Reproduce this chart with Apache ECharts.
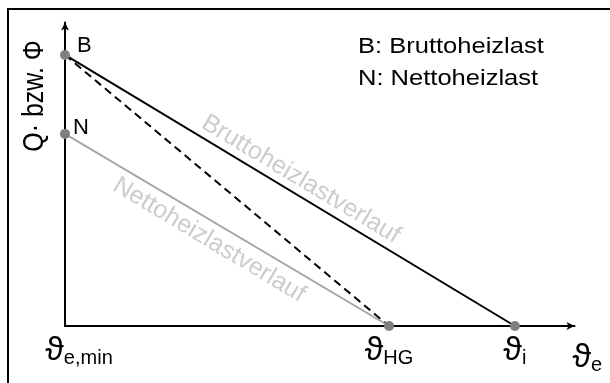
<!DOCTYPE html>
<html>
<head>
<meta charset="utf-8">
<script src="https://cdn.jsdelivr.net/npm/echarts@6/dist/echarts.min.js"></script>
<style>html,body{margin:0;padding:0;background:#fff}#c{width:610px;height:383px}</style>
</head>
<body>
<div id="c"></div>
<script>
// x positions (relative temperature scale 0..100) and load values (0..100)
var xLabels = ['e,min', 'HG', 'i'];
var xValues = [0, 63.6, 88.3];
var pointNames = ['B', 'N'];
var loadValues = [89.3, 63.3];     // B (brutto), N (netto) at theta_e,min
var lineNames = ['Bruttoheizlastverlauf', 'Nettoheizlastverlauf'];
var lineLabelPos = [[46.3, 48.3], [28.3, 28.3]];
var legendLines = ['B: Bruttoheizlast', 'N: Nettoheizlast'];
var yAxisName = 'Q· bzw. Φ';
var xAxisSub = 'e';

var FONT = 'Liberation Sans, Arial, sans-serif';
var chart = echarts.init(document.getElementById('c'), null, {renderer: 'canvas'});

var labelMap = {};
xValues.forEach(function (v, i) { labelMap[v] = xLabels[i]; });

var richStyle = {
  t: {fontFamily: FONT, fontSize: 34, color: '#000', lineHeight: 34, verticalAlign: 'bottom'},
  s: {fontFamily: FONT, fontSize: 20, color: '#000', lineHeight: 12, verticalAlign: 'bottom'},
  pad: {width: 28}
};

var option = {
  animation: false,
  backgroundColor: '#fff',
  grid: {left: 65, right: 35.5, top: 22.5, bottom: 57, containLabel: false},
  xAxis: {
    type: 'value', min: 0, max: 100,
    splitLine: {show: false},
    axisTick: {show: false},
    axisLine: {show: true, onZero: false, symbol: ['none', 'arrow'], symbolSize: [6, 8],
      lineStyle: {color: '#000', width: 2}},
    axisLabel: {
      customValues: xValues,
      margin: 8,
      formatter: function (v) {
        var key = xValues.reduce(function (a, b) { return Math.abs(b - v) < Math.abs(a - v) ? b : a; });
        var s = labelMap[key];
        if (key === 0) return '{pad|}{t|ϑ}{s|' + s + '}';
        return '{t|ϑ}{s|' + s + '}';
      },
      rich: richStyle
    },
    name: '{t|ϑ}{s|' + xAxisSub + '}',
    nameLocation: 'end',
    nameGap: -2,
    nameTextStyle: {
      align: 'left', verticalAlign: 'top', padding: [15, 0, 0, 0],
      rich: richStyle
    }
  },
  yAxis: {
    type: 'value', min: 0, max: 100,
    splitLine: {show: false},
    axisTick: {show: false},
    axisLabel: {show: false},
    axisLine: {show: true, onZero: false, symbol: ['none', 'arrow'], symbolSize: [6, 8],
      lineStyle: {color: '#000', width: 2}}
  },
  graphic: [
    {type: 'polyline', shape: {points: [[8, 400], [8, 9], [620, 9]]}, style: {stroke: '#000', lineWidth: 2, fill: null}, z: 100},
    {type: 'text', x: 35, y: 96, rotation: Math.PI / 2, scaleY: 1.16,
      style: {text: yAxisName, font: '25px ' + FONT, fill: '#000', align: 'center', verticalAlign: 'middle'}},
    {type: 'text', x: 358, y: 47, scaleX: 1.16,
      style: {text: legendLines[0], font: '22px ' + FONT, fill: '#000', align: 'left', verticalAlign: 'middle'}},
    {type: 'text', x: 358, y: 78.5, scaleX: 1.16,
      style: {text: legendLines[1], font: '22px ' + FONT, fill: '#000', align: 'left', verticalAlign: 'middle'}}
  ],
  series: [
    {type: 'line', name: lineNames[0], data: [[xValues[0], loadValues[0]], [xValues[2], 0]],
      symbol: 'none', lineStyle: {color: '#000', width: 2}, z: 2},
    {type: 'line', name: 'dashed', data: [[xValues[0], loadValues[0]], [xValues[1], 0]],
      symbol: 'none', lineStyle: {color: '#000', width: 2, type: [8, 5]}, z: 2},
    {type: 'line', name: lineNames[1], data: [[xValues[0], loadValues[1]], [xValues[1], 0]],
      symbol: 'none', lineStyle: {color: '#a6a6a6', width: 2}, z: 2},
    {type: 'scatter', symbolSize: 10, itemStyle: {color: '#808080', opacity: 1}, z: 5,
      data: [
        {value: [xValues[0], loadValues[0]], label: {show: true, formatter: pointNames[0], position: 'right', distance: 7, offset: [0, -9]}},
        {value: [xValues[0], loadValues[1]], label: {show: true, formatter: pointNames[1], position: 'right', distance: 3, offset: [0, -6]}},
        {value: [xValues[1], 0]},
        {value: [xValues[2], 0]}
      ],
      label: {fontFamily: FONT, fontSize: 22, color: '#000'}
    },
    {type: 'scatter', symbolSize: 0, z: 1, silent: true,
      data: lineLabelPos.map(function (p, i) {
        return {value: p, label: {show: true, formatter: lineNames[i], position: 'inside', rotate: -31,
          fontFamily: FONT, fontSize: 25, color: '#bfbfbf'}};
      })
    }
  ]
};
chart.setOption(option);
</script>
</body>
</html>
